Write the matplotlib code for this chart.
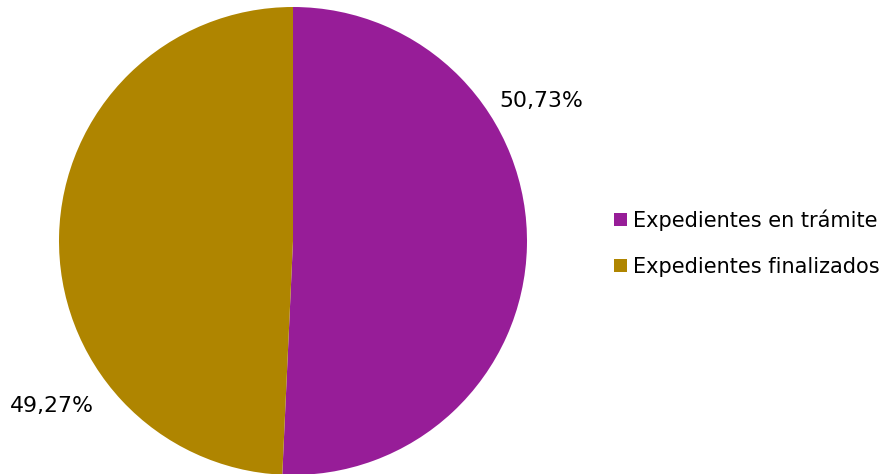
import matplotlib.pyplot as plt

labels = ["Expedientes en trámite", "Expedientes finalizados"]
values = [50.73, 49.27]
pct_text = ["50,73%", "49,27%"]
colors = ["#971D98", "#AF8500"]

W, H = 882, 474
fig = plt.figure(figsize=(W / 100, H / 100), dpi=100)

# pie centre ~ (293, 241) px, radius ~234 px
cx, cy, r = 293, 241, 234
ax = fig.add_axes([(cx - r) / W, (H - cy - r) / H, 2 * r / W, 2 * r / H])
wedges, _ = ax.pie(values, colors=colors, startangle=90, counterclock=False,
                   radius=1.0, wedgeprops=dict(linewidth=0))
ax.set_xlim(-1, 1)
ax.set_ylim(-1, 1)
ax.set_aspect("equal")
ax.axis("off")

ax.text(1.06, 0.60, pct_text[0], ha="center", va="center", fontsize=15.8, color="#000000")
ax.text(-1.03, -0.705, pct_text[1], ha="center", va="center", fontsize=15.8, color="#000000")

fig.legend(wedges, labels, loc="center left", bbox_to_anchor=(614 / W, 1 - 243 / H),
           frameon=False, fontsize=15, handlelength=0.6, handleheight=0.6,
           handletextpad=0.3, labelspacing=1.25, borderaxespad=0, borderpad=0)

fig.savefig("out.png", dpi=100)
